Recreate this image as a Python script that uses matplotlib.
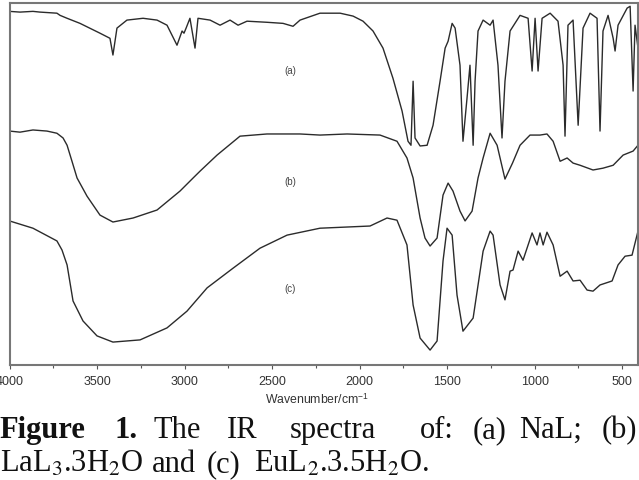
import matplotlib
matplotlib.use('Agg')
from matplotlib import pyplot as plt
from matplotlib.ticker import MultipleLocator

plt.rcParams['mathtext.fontset'] = 'stix'

# (a) NaL  -- wavenumber (cm-1) / transmittance (arbitrary, offset)
wn_a = [4000, 3940, 3866, 3826, 3729, 3711, 3671, 3597, 3483, 3426, 3409, 3386,
        3329, 3237, 3157, 3100, 3043, 3014, 3003, 2991, 2969, 2940, 2923, 2854,
        2797, 2740, 2694, 2643, 2529, 2437, 2380, 2340, 2226, 2111, 2037, 1980,
        1923, 1866, 1809, 1757, 1723, 1706, 1694, 1683, 1654, 1614, 1580, 1540,
        1511, 1494, 1471, 1454, 1426, 1409, 1386, 1369, 1351, 1340, 1323, 1294,
        1254, 1237, 1209, 1186, 1169, 1140, 1083, 1037, 1014, 997, 980, 957,
        911, 866, 837, 826, 809, 780, 751, 723, 683, 643, 626, 609, 580, 551,
        540, 523, 471, 454, 437, 426, 409]
t_a = [97.2, 97.0, 97.2, 97.0, 96.7, 96.1, 95.3, 93.9, 91.2, 89.8, 85.2, 92.6,
       94.8, 95.3, 94.8, 93.4, 87.9, 91.8, 91.2, 92.6, 95.3, 87.1, 95.3, 94.8,
       93.4, 94.8, 93.4, 94.5, 94.2, 93.9, 93.1, 94.8, 96.7, 96.7, 95.9, 94.5,
       91.8, 87.1, 78.8, 69.8, 61.5, 60.4, 78.0, 62.4, 60.2, 60.4, 65.9, 78.0,
       87.1, 89.0, 93.9, 92.6, 82.4, 61.5, 73.3, 82.4, 60.4, 78.0, 91.8, 94.8,
       93.4, 94.8, 82.4, 62.4, 78.0, 91.8, 96.1, 95.3, 80.8, 95.3, 80.8, 95.3,
       96.7, 94.5, 82.4, 62.9, 93.4, 94.8, 65.9, 92.6, 96.7, 95.3, 64.3, 91.8,
       96.1, 89.8, 86.3, 93.4, 98.1, 98.6, 75.3, 93.4, 87.1]

# (b) LaL3.3H2O
wn_b = [4000, 3940, 3866, 3786, 3729, 3694, 3671, 3643, 3614, 3557, 3483, 3409,
        3294, 3157, 3026, 2951, 2911, 2814, 2683, 2529, 2340, 2226, 2071, 1883,
        1786, 1729, 1694, 1654, 1626, 1597, 1557, 1523, 1494, 1466, 1426, 1397,
        1357, 1323, 1294, 1254, 1214, 1169, 1126, 1083, 1026, 969, 929, 894,
        854, 814, 780, 740, 666, 609, 551, 494, 437, 409]
t_b = [64.3, 64.0, 64.6, 64.3, 63.7, 62.4, 60.4, 56.0, 51.4, 46.4, 41.2, 39.3,
       40.4, 42.6, 47.8, 51.4, 53.3, 57.7, 62.9, 63.5, 63.5, 63.2, 63.5, 63.2,
       61.5, 56.9, 51.4, 40.4, 34.9, 32.7, 34.9, 46.7, 50.0, 47.8, 42.3, 39.6,
       42.3, 51.4, 56.9, 63.7, 60.4, 51.1, 55.5, 60.4, 63.2, 63.2, 63.5, 61.5,
       56.0, 56.9, 55.5, 54.9, 53.6, 54.1, 54.9, 57.7, 58.8, 60.4]

# (c) EuL2.3.5H2O
wn_c = [4000, 3866, 3729, 3700, 3671, 3637, 3580, 3500, 3409, 3254, 3100, 2986,
        2871, 2723, 2569, 2414, 2226, 1940, 1843, 1786, 1729, 1694, 1654, 1597,
        1557, 1523, 1500, 1471, 1443, 1409, 1351, 1294, 1254, 1237, 1197, 1169,
        1140, 1123, 1094, 1066, 1014, 986, 969, 951, 929, 894, 854, 814, 780,
        740, 700, 666, 626, 557, 523, 483, 443, 409]
t_c = [39.6, 37.6, 34.1, 31.6, 27.5, 17.6, 12.1, 8.0, 6.3, 6.9, 10.2, 14.8,
       21.2, 26.6, 32.1, 35.7, 37.6, 38.2, 40.4, 39.8, 33.0, 16.5, 7.4, 4.1,
       6.6, 28.6, 37.6, 35.7, 19.2, 9.3, 12.9, 31.3, 36.8, 35.7, 22.0, 17.9,
       25.8, 26.1, 31.3, 28.8, 36.3, 33.0, 36.3, 33.0, 36.5, 33.0, 24.4, 25.8,
       23.1, 23.3, 20.6, 20.3, 22.0, 23.1, 27.5, 29.9, 30.2, 36.8]

labels = ['(a)', '(b)', '(c)']
label_pos = [(2397, 81.0), (2397, 50.5), (2397, 21.2)]

W, H = 639, 481
fig = plt.figure(figsize=(W / 100, H / 100), dpi=100)
ax = fig.add_axes([9.5 / W, 1 - 366 / H, (638 - 9.5) / W, (366 - 4) / H])

for wn, t in [(wn_a, t_a), (wn_b, t_b), (wn_c, t_c)]:
    ax.plot(wn, t, color='#2b2b2b', lw=1.0)

for lab, (x, y) in zip(labels, label_pos):
    ax.text(x, y, lab, fontsize=7, color='#444444', ha='center', va='center',
            family='Liberation Sans')

ax.set_xlim(4000, 409)
ax.set_ylim(0, 99.5)
ax.xaxis.set_major_locator(MultipleLocator(500))
ax.xaxis.set_minor_locator(MultipleLocator(250))
ax.set_yticks([])
ax.tick_params(axis='x', which='major', direction='out', length=3, width=0.8,
               colors='#555555', labelcolor='#333333', labelsize=9, pad=4)
ax.tick_params(axis='x', which='minor', direction='out', length=2, width=0.8,
               colors='#555555')
for lbl in ax.get_xticklabels():
    lbl.set_family('Liberation Sans')
for s in ax.spines.values():
    s.set_color('#777777')
    s.set_linewidth(1.5)

fig.text(317 / W, 1 - 400 / H, 'Wavenumber/cm$^{\\mathregular{-1}}$', fontsize=8.8,
         color='#333333', ha='center', va='center', family='Liberation Sans')

# caption, justified by hand (word centres in pixels)
line1 = [('Figure', 42, 'bold'), ('1.', 126, 'bold'), ('The', 177, 'normal'),
         ('IR', 242, 'normal'), ('spectra', 333, 'normal'), ('of:', 437, 'normal'),
         ('(a)', 490, 'normal'), ('NaL;', 551, 'normal'), ('(b)', 619, 'normal')]
for word, x, wt in line1:
    fig.text(x / W, 1 - 438 / H, word, fontsize=22, fontweight=wt, ha='center',
             family='Liberation Serif', color='#111111', va='baseline')
line2 = [('LaL$_3$.3H$_2$O', 0), ('and', 152), ('(c)', 207),
         ('EuL$_2$.3.5H$_2$O.', 254)]
for word, x in line2:
    fig.text(x / W, 1 - 472 / H, word, fontsize=22, family='Liberation Serif',
             color='#111111', va='baseline', ha='left')

fig.savefig('out.png', dpi=100)
